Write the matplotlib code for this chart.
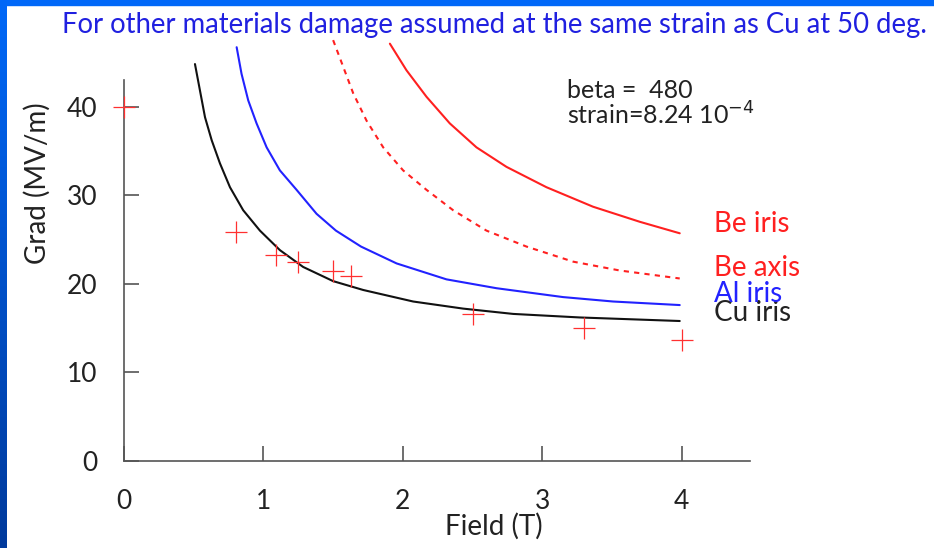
import numpy as np
import matplotlib
matplotlib.use("Agg")
import matplotlib.pyplot as plt

# measured points (field in T, gradient in MV/m)
meas_field = [0.0, 0.80, 1.09, 1.25, 1.50, 1.63, 2.50, 3.30, 4.00]
meas_grad = [40.0, 25.8, 23.3, 22.5, 21.5, 20.9, 16.6, 15.0, 13.6]

cu_field = [0.509, 0.545, 0.581, 0.629, 0.688, 0.760, 0.855, 0.975, 1.118, 1.285,
            1.50, 1.716, 2.074, 2.432, 2.791, 3.269, 3.627, 3.986]
cu_grad = [44.8, 41.8, 38.8, 36.2, 33.6, 30.9, 28.3, 26.0, 23.8, 21.9,
           20.3, 19.3, 18.0, 17.2, 16.6, 16.2, 16.0, 15.8]

al_field = [0.808, 0.843, 0.891, 0.951, 1.023, 1.118, 1.238, 1.381, 1.52, 1.70,
            1.955, 2.313, 2.672, 3.149, 3.508, 3.986]
al_grad = [46.7, 43.7, 40.7, 38.1, 35.4, 32.8, 30.6, 27.9, 26.0, 24.2,
           22.3, 20.5, 19.5, 18.5, 18.0, 17.6]

be_axis_field = [1.50, 1.572, 1.644, 1.740, 1.859, 2.002, 2.170, 2.361, 2.600,
                 2.887, 3.221, 3.556, 3.986]
be_axis_grad = [47.5, 44.5, 41.5, 38.4, 35.4, 32.8, 30.6, 28.3, 26.0,
                24.2, 22.5, 21.5, 20.6]

be_iris_field = [1.907, 2.026, 2.170, 2.337, 2.528, 2.743, 3.030, 3.364, 3.699, 3.986]
be_iris_grad = [47.1, 44.1, 41.1, 38.1, 35.4, 33.2, 30.9, 28.7, 27.0, 25.7]

xticks = [0, 1, 2, 3, 4]
yticks = [0, 10, 20, 30, 40]

plt.rcParams['font.family'] = ['Lato', 'DejaVu Sans']

fig = plt.figure(figsize=(9.34, 5.48), dpi=100)

# blue slide frame
bg = fig.add_axes([0, 0, 1, 1], zorder=-5)
bg.axis('off')
grad = np.linspace(0, 1, 256).reshape(-1, 1)
cmap = matplotlib.colors.LinearSegmentedColormap.from_list('frame', ['#0068f8', '#003a9c'])
strip = fig.add_axes([0, 0, 7 / 934, 1], zorder=-4)
strip.imshow(grad, aspect='auto', cmap=cmap)
strip.axis('off')
bg.add_patch(plt.Rectangle((0, 1 - 5 / 548), 1, 5 / 548, color='#0068f8', transform=fig.transFigure))

ax = fig.add_axes([124 / 934, 87 / 548, 626 / 934, 381 / 548])
ax.set_xlim(0, 4.49)
ax.set_ylim(0, 43.0)
for s in ['top', 'right']:
    ax.spines[s].set_visible(False)
for s in ['left', 'bottom']:
    ax.spines[s].set_color('#555555')
    ax.spines[s].set_linewidth(1.2)

ax.set_xticks(xticks)
ax.set_yticks(yticks)
ax.tick_params(direction='in', length=11, width=1.2, color='#555555', labelsize=19, colors='#222222')
ax.tick_params(axis='x', pad=20)
ax.tick_params(axis='y', pad=19)

kw = dict(lw=1.5, clip_on=False, solid_joinstyle='round', solid_capstyle='round')
ax.plot(cu_field, cu_grad, color='#111111', **kw)
ax.plot(al_field, al_grad, color='#2222ff', **kw)
ax.plot(be_axis_field, be_axis_grad, color='#ff2020', ls=(0, (2.5, 2.5)), lw=1.5, clip_on=False)
ax.plot(be_iris_field, be_iris_grad, color='#ff2020', **kw)
ax.plot(meas_field, meas_grad, ls='none', marker='+', ms=16, mew=0.9, color='#ff3030',
        clip_on=False, zorder=5)

fig.text(494 / 934, 1 - 526 / 548, 'Field (T)', ha='center', va='center', fontsize=20, color='#222222')
fig.text(37 / 934, 1 - 183 / 548, 'Grad (MV/m)', ha='center', va='center', rotation=90, fontsize=20,
         color='#222222')

fig.text(494 / 934, 1 - 25 / 548, 'For other materials damage assumed at the same strain as Cu at 50 deg.',
         ha='center', va='center', fontsize=19.8, color='#2020e0')

fig.text(567 / 934, 1 - 91 / 548, 'beta =  480', ha='left', va='center', fontsize=18, color='#222222')
fig.text(567 / 934, 1 - 115 / 548, r'strain=8.24 10$^{-4}$', ha='left', va='center', fontsize=18,
         color='#222222')

fig.text(714 / 934, 1 - 224 / 548, 'Be iris', ha='left', va='center', fontsize=20, color='#ff2020')
fig.text(714 / 934, 1 - 268 / 548, 'Be axis', ha='left', va='center', fontsize=20, color='#ff2020')
fig.text(714 / 934, 1 - 313 / 548, 'Cu iris', ha='left', va='center', fontsize=20, color='#222222')
fig.text(714 / 934, 1 - 294 / 548, 'Al iris', ha='left', va='center', fontsize=20, color='#2222ff')

fig.savefig('out.png', dpi=100)
